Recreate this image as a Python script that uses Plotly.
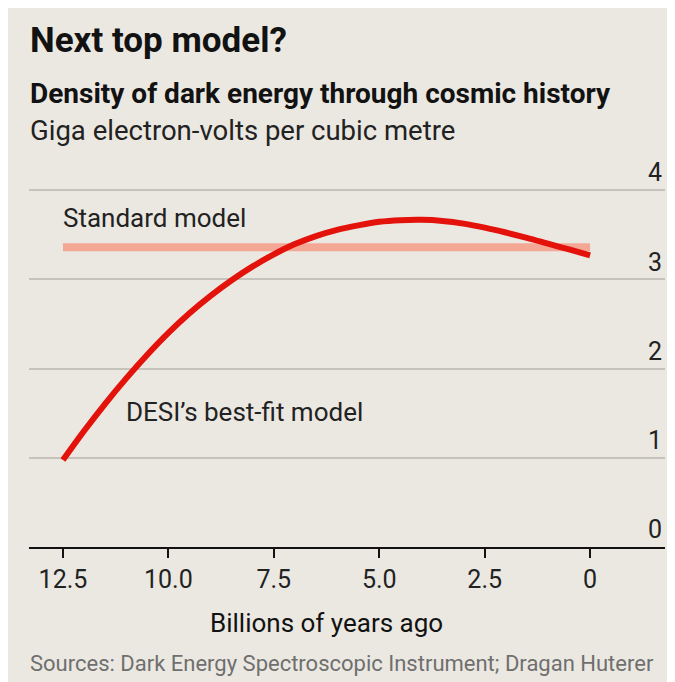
import plotly.graph_objects as go

# Data
years_ago = [12.5, 12.0, 11.5, 11.0, 10.5, 10.0, 9.5, 9.0, 8.5, 8.0, 7.5, 7.0,
             6.5, 6.0, 5.5, 5.0, 4.5, 4.0, 3.5, 3.0, 2.5, 2.0, 1.5, 1.0, 0.5, 0.0]
desi_density = [0.975, 1.30, 1.605, 1.89, 2.155, 2.40, 2.62, 2.815, 2.99, 3.145, 3.28, 3.395,
                3.485, 3.555, 3.605, 3.645, 3.663, 3.667, 3.655, 3.625, 3.58, 3.525, 3.465,
                3.40, 3.335, 3.27]
standard_x = [12.5, 0.0]
standard_density = [3.36, 3.36]

x_tickvals = [12.5, 10.0, 7.5, 5.0, 2.5, 0.0]
x_ticktext = ["12.5", "10.0", "7.5", "5.0", "2.5", "0"]
y_tickvals = [0, 1, 2, 3, 4]
y_ticktext = ["0", "1", "2", "3", "4"]

FONT = "Roboto, sans-serif"
BEIGE = "#ebe8e1"

OFF = 8  # page body margin
W, H = 667, 674
Y_TOP = 4.45
ML, MR, MB = 21, 10, 135
MT = (547 - Y_TOP * 89.25) - OFF
PW = W - ML - MR
PH = H - MT - MB


def px(x):
    return (x - OFF - ML) / PW


def py(y):
    return (H - MB - (y - OFF)) / PH


fig = go.Figure()
fig.add_trace(go.Scatter(x=standard_x, y=standard_density, mode="lines",
                         line=dict(color="#f4a795", width=8), hoverinfo="skip",
                         showlegend=False))
fig.add_trace(go.Scatter(x=years_ago, y=desi_density, mode="lines",
                         line=dict(color="#e3120b", width=6, shape="spline", smoothing=1),
                         hoverinfo="skip", showlegend=False))

anns = [
    dict(text="<b>Next top model?</b>", x=px(28), y=py(40), size=35, color="#121212"),
    dict(text="<b>Density of dark energy through cosmic history</b>", x=px(28), y=py(93), size=28, color="#121212"),
    dict(text="Giga electron-volts per cubic metre", x=px(28), y=py(130), size=27.5, color="#222222"),
    dict(text="Sources: Dark Energy Spectroscopic Instrument; Dragan Huterer", x=px(28), y=py(664), size=22, color="#6f6f6f"),
]
for a in anns:
    fig.add_annotation(text=a["text"], xref="paper", yref="paper", x=a["x"], y=a["y"],
                       xanchor="left", yanchor="middle", showarrow=False,
                       font=dict(family=FONT, size=a["size"], color=a["color"]))

fig.add_annotation(text="Billions of years ago", x=6.25, xref="x", y=py(623), yref="paper",
                   xanchor="center", yanchor="middle", showarrow=False,
                   font=dict(family=FONT, size=26, color="#121212"))

fig.add_annotation(text="Standard model", x=12.55, y=3.69, xref="x", yref="y",
                   xanchor="left", yanchor="middle", showarrow=False,
                   font=dict(family=FONT, size=26, color="#222222"))
fig.add_annotation(text="DESI’s best-fit model", x=11.05, y=1.51, xref="x", yref="y",
                   xanchor="left", yanchor="middle", showarrow=False,
                   font=dict(family=FONT, size=26, color="#222222"))

fig.update_layout(
    width=W, height=H,
    margin=dict(l=ML, r=MR, t=MT, b=MB),
    paper_bgcolor=BEIGE,
    plot_bgcolor=BEIGE,
    font=dict(family=FONT, color="#222222"),
    xaxis=dict(range=[13.305, -1.776], tickvals=x_tickvals, ticktext=x_ticktext,
               showgrid=False, zeroline=False, showline=True, linecolor="#121212",
               linewidth=2, ticks="outside", ticklen=9, tickwidth=1.5, tickcolor="#121212",
               tickfont=dict(family=FONT, size=25, color="#222222")),
    yaxis=dict(range=[0, Y_TOP], tickvals=y_tickvals, ticktext=y_ticktext, side="right",
               ticklabelposition="inside top", showgrid=True, gridcolor="#c6c3bc",
               gridwidth=1.5, zeroline=False, ticks="", showline=False,
               tickfont=dict(family=FONT, size=25, color="#222222")),
)

fig.write_html("out.html")
